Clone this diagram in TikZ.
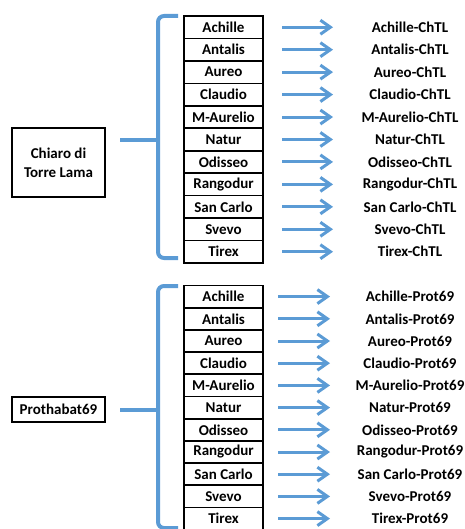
\documentclass[tikz,border=0pt]{standalone}
\usepackage{fontspec}
\setmainfont{Carlito}
\usetikzlibrary{arrows.meta, positioning}
\definecolor{bl}{HTML}{5B9BD5}

\begin{document}
\begin{tikzpicture}[x=1pt,y=-1pt, f/.style={font=\bfseries\fontsize{15}{19}\selectfont,inner sep=0pt}, v/.style={f,draw,line width=1.6pt,minimum width=79pt,minimum height=22.4pt,outer sep=0pt}, g/.style={f,draw,line width=1.6pt,minimum width=93pt,align=center,outer sep=0pt}, br/.style={bl,line width=4pt,rounded corners=6pt}, arr/.style={-{Straight Barb[length=10pt,width=14pt]},bl,line width=3pt}]
  \useasboundingbox (0,0) rectangle (464,529);
  \node[g,minimum height=69pt](ch) at (58.5,162.5){Chiaro di\\Torre Lama};
  \node[g,minimum height=25pt](pr) at (58.5,409.5){Prothabat69};
  \coordinate (sa) at (120,140); \coordinate (ka) at (158,140);
  \coordinate (sb) at (120,410); \coordinate (kb) at (158,410);
  \draw[br](sa)--(ka);
  \draw[br](sb)--(kb);
  \draw[br](178,16)-|(ka)|-(178,258);
  \draw[br](178,286)-|(kb)|-(178,528);
  \foreach \n [count=\i] in {Achille,Antalis,Aureo,Claudio,M-Aurelio,Natur,Odisseo,Rangodur,San Carlo,Svevo,Tirex}{
    \node[v](a\i) at (223.5,{16+(\i-0.5)*22.45}){\n};
    \node[f](ra\i) at (410,{16+(\i-0.5)*22.45}){\n-ChTL};
    \draw[arr]([xshift=19pt]a\i.east)--([xshift=70pt]a\i.east);
    \node[v](b\i) at (223.5,{285.5+(\i-0.5)*22.2}){\n};
    \node[f](rb\i) at (410,{285.5+(\i-0.5)*22.2}){\n-Prot69};
    \draw[arr]([xshift=15pt]b\i.east)--([xshift=67pt]b\i.east);
  }
\end{tikzpicture}
\end{document}
